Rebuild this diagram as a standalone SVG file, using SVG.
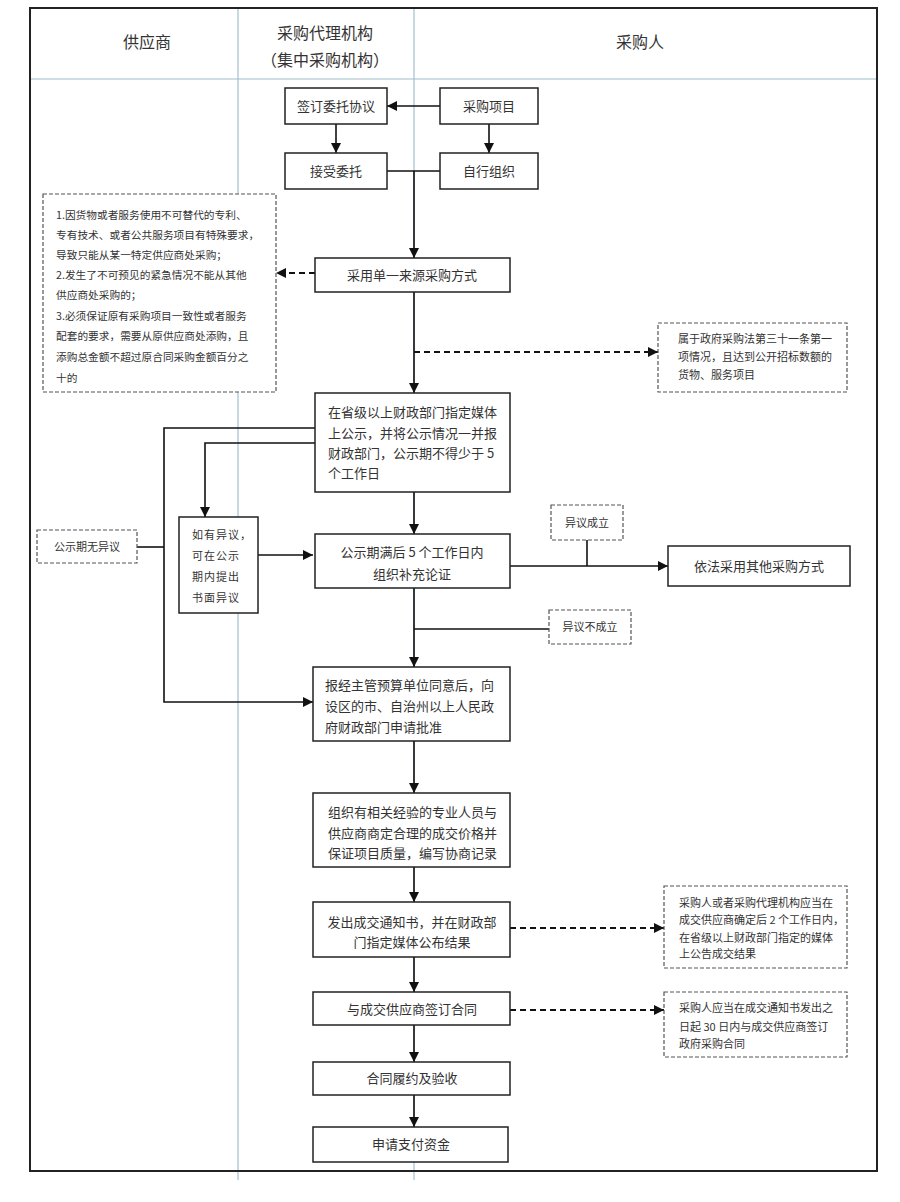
<svg xmlns="http://www.w3.org/2000/svg" width="900" height="1202" viewBox="0 0 900 1202">
<style>
.t{font-family:"Noto Sans CJK SC","Liberation Sans",sans-serif;fill:#333}
.h{font-size:16px;text-anchor:middle}
.n{font-size:13px}
.c{text-anchor:middle}
.s{font-size:10.7px}
.r{font-size:11px}
.box{fill:#fff;stroke:#222;stroke-width:1.5}
.dbox{fill:#fff;stroke:#555;stroke-width:1.2;stroke-dasharray:4 2}
.ln{fill:none;stroke:#111;stroke-width:1.6}
.dl{fill:none;stroke:#111;stroke-width:2;stroke-dasharray:6 4}
.col{stroke:#8fb3c8;stroke-width:1}
</style>
<defs>
<marker id="arr" markerUnits="userSpaceOnUse" markerWidth="10" markerHeight="10" refX="10" refY="5" orient="auto">
<path d="M0,0 L10,5 L0,10 z" fill="#111"/>
</marker>
</defs>
<rect width="900" height="1202" fill="#fff"/>
<g id="frame">
<line class="col" x1="238" y1="8" x2="238" y2="1180"/>
<line class="col" x1="414" y1="8" x2="414" y2="1180"/>
<line x1="30" y1="79" x2="877" y2="79" stroke="#9fbccc" stroke-width="1.2"/>
<rect x="30" y="8" width="847" height="1163" fill="none" stroke="#222" stroke-width="2"/>
<text class="t h" x="147" y="48">供应商</text>
<text class="t h" x="325" y="39">采购代理机构</text>
<text class="t h" x="325" y="66">（集中采购机构）</text>
<text class="t h" x="640" y="48">采购人</text>
</g>
<g id="connectors">
<path class="ln" d="M440,106 H387" marker-end="url(#arr)"/>
<path class="ln" d="M336,124 V153" marker-end="url(#arr)"/>
<path class="ln" d="M489,124 V153" marker-end="url(#arr)"/>
<path class="ln" d="M387,171 H440"/>
<path class="ln" d="M414,171 V258" marker-end="url(#arr)"/>
<path class="dl" d="M315,273 H276" marker-end="url(#arr)"/>
<path class="ln" d="M414,292 V393" marker-end="url(#arr)"/>
<path class="dl" d="M414,352 H658" marker-end="url(#arr)"/>
<path class="ln" d="M414,492 V534" marker-end="url(#arr)"/>
<path class="ln" d="M315,428 H164 V702 H313" marker-end="url(#arr)"/>
<path class="ln" d="M315,443 H205 V517" marker-end="url(#arr)"/>
<path class="ln" d="M137,547 H164"/>
<path class="ln" d="M258,555 H313" marker-end="url(#arr)"/>
<path class="ln" d="M510,566 H668" marker-end="url(#arr)"/>
<path class="ln" d="M587,540 V566"/>
<path class="ln" d="M414,588 V667" marker-end="url(#arr)"/>
<path class="ln" d="M414,629 H549"/>
<path class="ln" d="M414,741 V793" marker-end="url(#arr)"/>
<path class="ln" d="M414,867 V902" marker-end="url(#arr)"/>
<path class="dl" d="M510,928 H664" marker-end="url(#arr)"/>
<path class="ln" d="M414,957 V992" marker-end="url(#arr)"/>
<path class="dl" d="M510,1010 H664" marker-end="url(#arr)"/>
<path class="ln" d="M414,1025 V1062" marker-end="url(#arr)"/>
<path class="ln" d="M414,1095 V1127" marker-end="url(#arr)"/>
</g>
<g id="n-sign">
<rect class="box" x="285" y="88" width="102" height="36"/>
<text class="t n c" x="336" y="111">签订委托协议</text>
</g>
<g id="n-project">
<rect class="box" x="440" y="88" width="98" height="36"/>
<text class="t n c" x="489" y="111">采购项目</text>
</g>
<g id="n-accept">
<rect class="box" x="285" y="153" width="102" height="36"/>
<text class="t n c" x="336" y="176">接受委托</text>
</g>
<g id="n-self">
<rect class="box" x="440" y="153" width="98" height="36"/>
<text class="t n c" x="489" y="176">自行组织</text>
</g>
<g id="n-single">
<rect class="box" x="315" y="258" width="195" height="34"/>
<text class="t n c" x="412" y="280">采用单一来源采购方式</text>
</g>
<g id="n-conditions">
<rect class="dbox" x="43" y="194" width="233" height="198"/>
<text class="t s" x="56" y="219">1.因货物或者服务使用不可替代的专利、</text>
<text class="t s" x="56" y="239">专有技术、或者公共服务项目有特殊要求，</text>
<text class="t s" x="56" y="259">导致只能从某一特定供应商处采购；</text>
<text class="t s" x="56" y="279">2.发生了不可预见的紧急情况不能从其他</text>
<text class="t s" x="56" y="299">供应商处采购的；</text>
<text class="t s" x="56" y="320">3.必须保证原有采购项目一致性或者服务</text>
<text class="t s" x="56" y="340">配套的要求，需要从原供应商处添购，且</text>
<text class="t s" x="56" y="361">添购总金额不超过原合同采购金额百分之</text>
<text class="t s" x="56" y="382">十的</text>
</g>
<g id="n-law">
<rect class="dbox" x="658" y="323" width="189" height="69"/>
<text class="t r" x="678" y="343">属于政府采购法第三十一条第一</text>
<text class="t r" x="678" y="361">项情况，且达到公开招标数额的</text>
<text class="t r" x="678" y="379">货物、服务项目</text>
</g>
<g id="n-publicize">
<rect class="box" x="315" y="393" width="195" height="99"/>
<text class="t n" x="328" y="417">在省级以上财政部门指定媒体</text>
<text class="t n" x="328" y="438">上公示，并将公示情况一并报</text>
<text class="t n" x="328" y="458">财政部门，公示期不得少于 5</text>
<text class="t n" x="328" y="478">个工作日</text>
</g>
<g id="n-noobjection">
<rect class="dbox" x="37" y="530" width="100" height="33"/>
<text class="t r c" x="87" y="551">公示期无异议</text>
</g>
<g id="n-objection">
<rect class="box" x="179" y="517" width="79" height="96"/>
<text class="t r" x="192" y="539" letter-spacing="1">如有异议，</text>
<text class="t r" x="192" y="560" letter-spacing="1">可在公示</text>
<text class="t r" x="192" y="581" letter-spacing="1">期内提出</text>
<text class="t r" x="192" y="602" letter-spacing="1">书面异议</text>
</g>
<g id="n-verify">
<rect class="box" x="315" y="534" width="195" height="54"/>
<text class="t n c" x="412" y="557">公示期满后 5 个工作日内</text>
<text class="t n c" x="412" y="579">组织补充论证</text>
</g>
<g id="n-upheld">
<rect class="dbox" x="551" y="505" width="72" height="35"/>
<text class="t r c" x="587" y="527">异议成立</text>
</g>
<g id="n-other">
<rect class="box" x="668" y="546" width="182" height="40"/>
<text class="t n c" x="759" y="571">依法采用其他采购方式</text>
</g>
<g id="n-rejected">
<rect class="dbox" x="549" y="610" width="82" height="34"/>
<text class="t r c" x="590" y="631">异议不成立</text>
</g>
<g id="n-approve">
<rect class="box" x="313" y="667" width="197" height="74"/>
<text class="t n" x="325" y="690">报经主管预算单位同意后，向</text>
<text class="t n" x="325" y="711">设区的市、自治州以上人民政</text>
<text class="t n" x="325" y="732">府财政部门申请批准</text>
</g>
<g id="n-negotiate">
<rect class="box" x="313" y="793" width="197" height="74"/>
<text class="t n" x="328" y="817">组织有相关经验的专业人员与</text>
<text class="t n" x="328" y="838">供应商商定合理的成交价格并</text>
<text class="t n" x="328" y="858">保证项目质量，编写协商记录</text>
</g>
<g id="n-notice">
<rect class="box" x="313" y="902" width="197" height="55"/>
<text class="t n c" x="412" y="927">发出成交通知书，并在财政部</text>
<text class="t n c" x="412" y="947">门指定媒体公布结果</text>
</g>
<g id="n-notice-note">
<rect class="dbox" x="664" y="886" width="183" height="82"/>
<text class="t r" x="679" y="907">采购人或者采购代理机构应当在</text>
<text class="t r" x="679" y="924">成交供应商确定后 2 个工作日内，</text>
<text class="t r" x="679" y="942">在省级以上财政部门指定的媒体</text>
<text class="t r" x="679" y="958">上公告成交结果</text>
</g>
<g id="n-contract">
<rect class="box" x="313" y="992" width="197" height="33"/>
<text class="t n c" x="412" y="1014">与成交供应商签订合同</text>
</g>
<g id="n-contract-note">
<rect class="dbox" x="664" y="992" width="183" height="65"/>
<text class="t r" x="679" y="1012">采购人应当在成交通知书发出之</text>
<text class="t r" x="679" y="1031">日起 30 日内与成交供应商签订</text>
<text class="t r" x="679" y="1048">政府采购合同</text>
</g>
<g id="n-perform">
<rect class="box" x="313" y="1062" width="197" height="33"/>
<text class="t n c" x="412" y="1083">合同履约及验收</text>
</g>
<g id="n-pay">
<rect class="box" x="313" y="1127" width="195" height="35"/>
<text class="t n c" x="411" y="1149">申请支付资金</text>
</g>
</svg>
